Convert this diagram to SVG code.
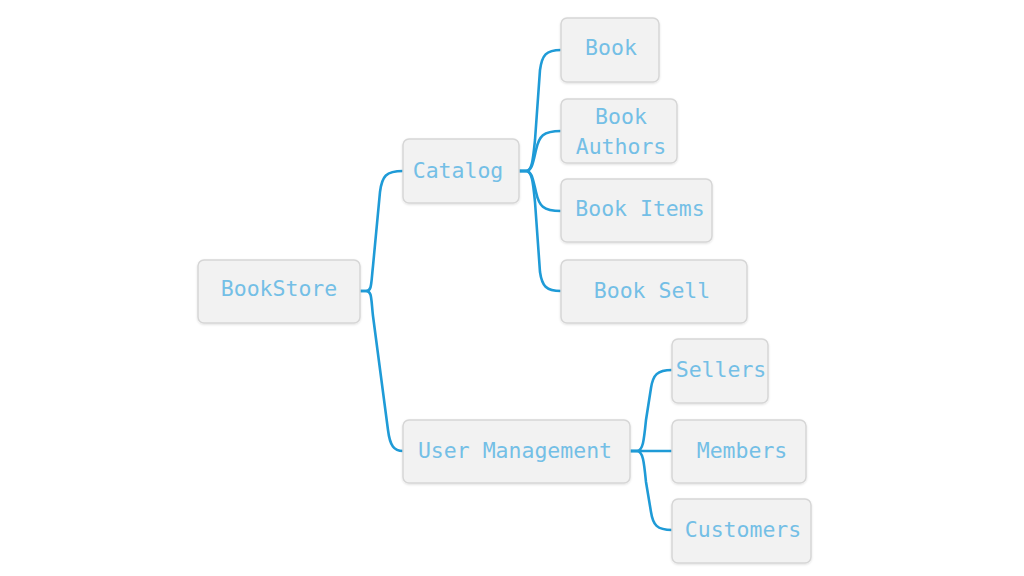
<svg xmlns="http://www.w3.org/2000/svg" width="1024" height="576" viewBox="0 0 1024 576">
<defs>
<filter id="sh" x="-10%" y="-10%" width="120%" height="130%">
<feDropShadow dx="0" dy="1" stdDeviation="1" flood-color="#000" flood-opacity="0.12"/>
</filter>
<style>
.box{fill:#f2f2f2;stroke:#d6d6d6;stroke-width:1.5;filter:url(#sh)}
.t{font-family:"DejaVu Sans Mono","Liberation Mono",monospace;font-size:21.5px;fill:#74bfe6;text-anchor:middle;dominant-baseline:central}
.c{fill:none;stroke:#1f9bd7;stroke-width:2.6;stroke-linecap:round}
</style>
</defs>
<rect width="1024" height="576" fill="#fff"/>
<g id="connectors">
<path class="c" d="M360 291 H366 C372 291 371 284 373 266 L380 192 C382 176 386 171 403 171"/>
<path class="c" d="M360 291 H366 C372 291 371 298 373 316 L388 430 C390 446 394 451 403 451"/>
<path class="c" d="M519 171 H526 C532 171 533 160 535 140 L540 70 C542 55 546 50 561 50"/>
<path class="c" d="M519 171 H526 C532 171 533 163 536 150 C539 136 543 131 561 131"/>
<path class="c" d="M519 171 H526 C532 171 533 180 536 192 C539 206 543 211 561 211"/>
<path class="c" d="M519 171 H526 C532 171 533 182 535 202 L540 272 C542 286 546 291 561 291"/>
<path class="c" d="M630 451 H637 C643 451 644 440 646 420 L651 388 C653 375 657 370 672 370"/>
<path class="c" d="M630 451 H672"/>
<path class="c" d="M630 451 H637 C643 451 644 462 646 482 L651 512 C653 525 657 530 672 530"/>
</g>
<g id="n-bookstore"><rect class="box" x="198" y="260" width="162" height="63" rx="6"/><text class="t" x="279" y="288">BookStore</text></g>
<g id="n-catalog"><rect class="box" x="403" y="139" width="116" height="64" rx="6"/><text class="t" x="458" y="170">Catalog</text></g>
<g id="n-book"><rect class="box" x="561" y="18" width="98" height="64" rx="6"/><text class="t" x="611" y="47">Book</text></g>
<g id="n-bookauthors"><rect class="box" x="561" y="99" width="116" height="64" rx="6"/><text class="t" x="621" y="116">Book</text><text class="t" x="621" y="146">Authors</text></g>
<g id="n-bookitems"><rect class="box" x="561" y="179" width="151" height="63" rx="6"/><text class="t" x="640" y="208">Book Items</text></g>
<g id="n-booksell"><rect class="box" x="561" y="260" width="186" height="63" rx="6"/><text class="t" x="652" y="290">Book Sell</text></g>
<g id="n-usermanagement"><rect class="box" x="403" y="420" width="227" height="63" rx="6"/><text class="t" x="515" y="450">User Management</text></g>
<g id="n-sellers"><rect class="box" x="672" y="339" width="96" height="64" rx="6"/><text class="t" x="721" y="369">Sellers</text></g>
<g id="n-members"><rect class="box" x="672" y="420" width="134" height="63" rx="6"/><text class="t" x="742" y="450">Members</text></g>
<g id="n-customers"><rect class="box" x="672" y="499" width="139" height="64" rx="6"/><text class="t" x="743" y="529">Customers</text></g>
</svg>
